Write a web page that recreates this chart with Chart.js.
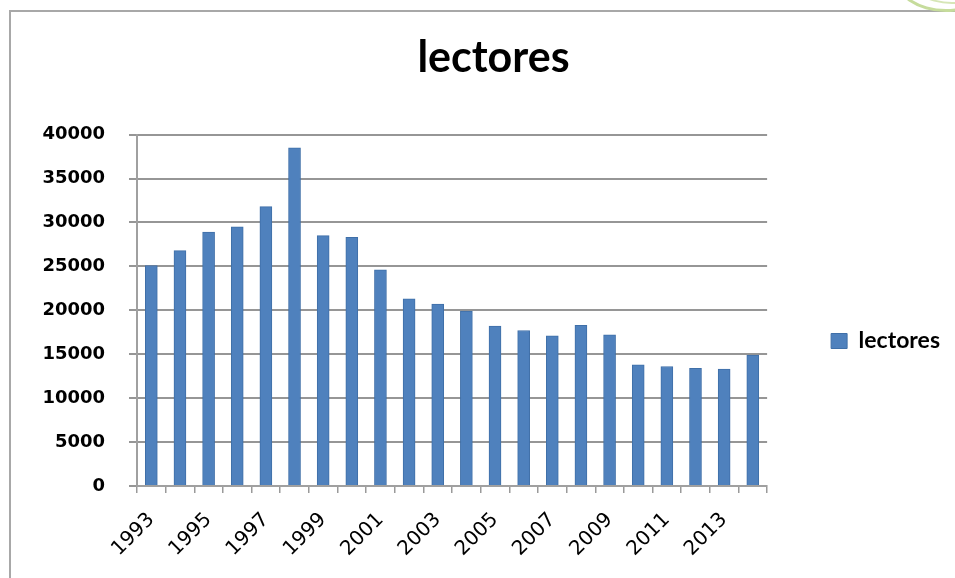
<!DOCTYPE html>
<html>
<head>
<meta charset="utf-8">
<script src="https://cdn.jsdelivr.net/npm/chart.js@4/dist/chart.umd.min.js"></script>
<style>
  html, body { margin: 0; padding: 0; background: #fff; }
  #wrap { position: relative; width: 955px; height: 578px; overflow: hidden; }
  #frame { position: absolute; left: 9px; top: 10px; width: 960px; height: 600px;
           border-left: 2px solid #a8a8a8; border-top: 2px solid #a8a8a8; }
  #ring { position: absolute; left: 893px; top: -62px; width: 100px; height: 68px;
          border-radius: 50%; border: 3px solid #c6dc9c; }
  #ring2 { position: absolute; left: 905px; top: -60px; width: 90px; height: 60px;
          border-radius: 50%; border: 2px solid #d6e6b6; }
  canvas { position: absolute; left: 0; top: 0; }
</style>
</head>
<body>
<div id="wrap">
  <div id="frame"></div>
  <div id="ring"></div>
  <div id="ring2"></div>
  <canvas id="c" width="955" height="578"></canvas>
</div>
<script>
const titleText = "lectores";
const seriesName = "lectores";
const years = ["1993","1994","1995","1996","1997","1998","1999","2000","2001","2002","2003",
               "2004","2005","2006","2007","2008","2009","2010","2011","2012","2013","2014"];
const lectores = [25100, 26800, 28900, 29500, 31800, 38500, 28500, 28300, 24600, 21300, 20700,
                  19900, 18200, 17700, 17100, 18300, 17200, 13800, 13600, 13400, 13300, 14900];
const yMin = 0, yMax = 40000, yStep = 5000;

const ctx = document.getElementById('c').getContext('2d');
new Chart(ctx, {
  type: 'bar',
  data: {
    labels: years,
    datasets: [{
      label: seriesName,
      data: lectores,
      backgroundColor: '#4f81bd',
      borderColor: '#3f6fa8',
      borderWidth: 1,
      barThickness: 12
    }]
  },
  options: {
    responsive: false,
    animation: false,
    devicePixelRatio: 1,
    layout: { padding: { left: 37, right: 5, top: 0, bottom: 0 } },
    plugins: {
      title: {
        display: true,
        text: titleText,
        color: '#000',
        font: { family: 'Lato', weight: 'bold', size: 43, lineHeight: 1.2 },
        padding: { top: 32, bottom: 51 }
      },
      legend: {
        display: true,
        position: 'right',
        title: { display: true, text: ' ', font: { size: 10, lineHeight: 1.2 }, padding: { top: 0, bottom: 92 } },
        labels: {
          color: '#000',
          font: { family: 'Lato', weight: 'bold', size: 23 },
          boxWidth: 16,
          boxHeight: 15,
          padding: 64
        }
      },
      tooltip: { enabled: false }
    },
    scales: {
      x: {
        grid: { display: true, drawOnChartArea: false, color: '#9a9a9a', lineWidth: 1.5, tickLength: 7, offset: true },
        border: { display: true, color: '#a0a0a0', width: 2 },
        ticks: {
          autoSkip: false,
          maxRotation: 45,
          minRotation: 45,
          color: '#000',
          font: { family: 'DejaVu Sans', size: 20 },
          padding: 15,
          callback: function(v, i) { return i % 2 === 0 ? years[i] : ''; }
        },
        afterFit: function(s) { s.height = 92; }
      },
      y: {
        min: yMin,
        max: yMax,
        grid: { color: '#969696', lineWidth: 2, tickLength: 8 },
        border: { display: true, color: '#a0a0a0', width: 2 },
        ticks: {
          stepSize: yStep,
          color: '#000',
          font: { family: 'DejaVu Sans', weight: 'bold', size: 18 },
          padding: 24,
          callback: function(v) { return String(v); }
        },
        afterFit: function(s) { s.width = 100; }
      }
    }
  }
});
</script>
</body>
</html>
